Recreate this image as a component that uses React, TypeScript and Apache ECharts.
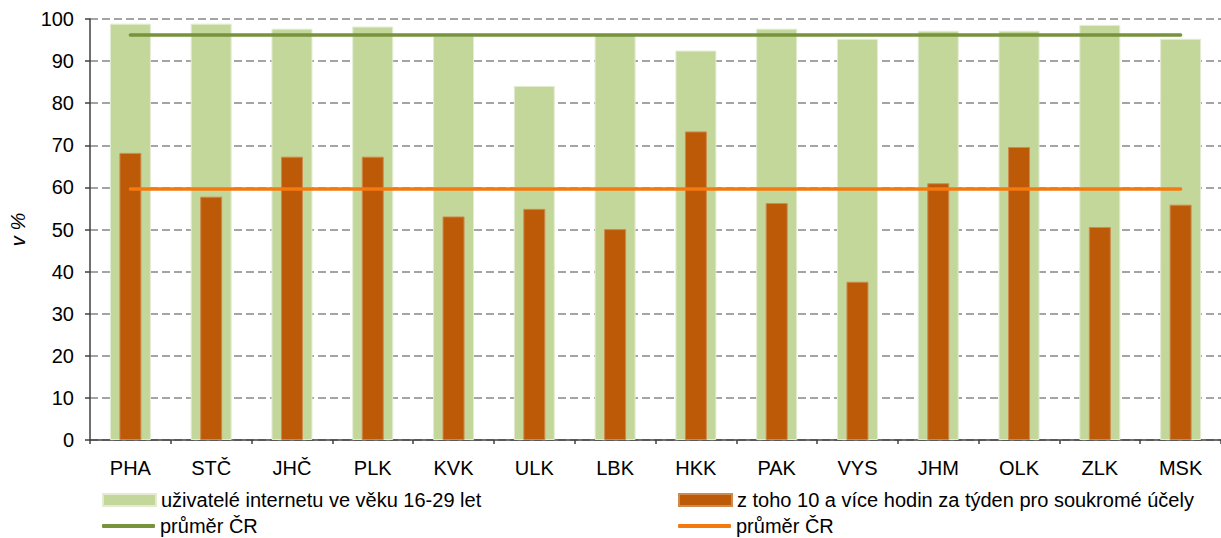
import React, { useEffect, useRef } from "react";
import * as echarts from "echarts";

const categories = ["PHA", "STČ", "JHČ", "PLK", "KVK", "ULK", "LBK", "HKK", "PAK", "VYS", "JHM", "OLK", "ZLK", "MSK"];
const internetUsers = [98.9, 98.9, 97.7, 98.2, 96.0, 84.1, 96.3, 92.5, 97.7, 95.3, 97.2, 97.2, 98.6, 95.3];
const heavyUsers = [68.2, 57.8, 67.3, 67.3, 53.1, 54.9, 50.1, 73.3, 56.3, 37.6, 61.0, 69.6, 50.6, 55.9];
const avgInternet = [96.2, 96.2, 96.2, 96.2, 96.2, 96.2, 96.2, 96.2, 96.2, 96.2, 96.2, 96.2, 96.2, 96.2];
const avgHeavy = [59.6, 59.6, 59.6, 59.6, 59.6, 59.6, 59.6, 59.6, 59.6, 59.6, 59.6, 59.6, 59.6, 59.6];

const nameInternet = "uživatelé internetu ve věku 16-29 let";
const nameHeavy = "z toho 10 a více hodin za týden pro soukromé účely";
const nameAvgInternet = "průměr ČR";
const nameAvgHeavy = "průměr ČR ";

const FONT = "'Liberation Sans', Arial, sans-serif";

export default function App() {
  const ref = useRef<HTMLDivElement>(null);
  useEffect(() => {
    if (!ref.current) return;
    const chart = echarts.init(ref.current, undefined, { renderer: "svg" });
    const legendText = { fontSize: 20, fontFamily: FONT, color: "#000", lineHeight: 20 };
    const mkLegend = (name: string, left: number, top: number, isLine: boolean) => ({
      data: [{ name, icon: isLine ? "roundRect" : "rect" }],
      left,
      top,
      itemWidth: 53,
      itemHeight: isLine ? 4 : 12,
      itemGap: 0,
      itemTextGap: isLine ? 8 : 5,
      textStyle: legendText,
      selectedMode: false,
    });
    const catAxisBase = {
      type: "category",
      data: categories,
      boundaryGap: true,
    };
    chart.setOption({
      animation: false,
      textStyle: { fontFamily: FONT },
      grid: { left: 89, top: 19, width: 1138, height: 421 },
      legend: [
        mkLegend(nameInternet, 97, 485, false),
        mkLegend(nameHeavy, 673, 485, false),
        mkLegend(nameAvgInternet, 97, 511, true),
        mkLegend(nameAvgHeavy, 673, 511, true),
      ],
      xAxis: [
        {
          ...catAxisBase,
          axisLine: { lineStyle: { color: "#404040", width: 1.5 } },
          axisTick: { show: true, length: 4, lineStyle: { color: "#404040", width: 1.5 } },
          axisLabel: { fontSize: 20, color: "#000", margin: 18, fontFamily: FONT },
        },
        {
          ...catAxisBase,
          show: false,
        },
      ],
      yAxis: {
        type: "value",
        min: 0,
        max: 100,
        interval: 10,
        name: "v %",
        nameLocation: "middle",
        nameGap: 62,
        nameTextStyle: { fontSize: 20, fontStyle: "italic", color: "#000", fontFamily: FONT },
        axisLine: { show: true, lineStyle: { color: "#404040", width: 1.5 } },
        axisTick: { show: true, length: 5, lineStyle: { color: "#404040", width: 1.5 } },
        axisLabel: { fontSize: 20, color: "#000", margin: 16, fontFamily: FONT },
        splitLine: { show: true, lineStyle: { color: "#868686", width: 1.5, type: [8, 4] } },
      },
      series: [
        {
          name: nameInternet,
          type: "bar",
          xAxisIndex: 0,
          data: internetUsers,
          barWidth: 41,
          itemStyle: { color: "#c4d79b", borderColor: "#e3ecd3", borderWidth: 1 },
          z: 2,
        },
        {
          name: nameHeavy,
          type: "bar",
          xAxisIndex: 1,
          data: heavyUsers,
          barWidth: 22,
          itemStyle: { color: "#bd5a08", borderColor: "#cf8a50", borderWidth: 1 },
          z: 3,
        },
        {
          name: nameAvgInternet,
          type: "line",
          xAxisIndex: 0,
          data: avgInternet,
          symbol: "none",
          lineStyle: { color: "#77933c", width: 3.5, cap: "round" },
          itemStyle: { color: "#77933c" },
          z: 4,
        },
        {
          name: nameAvgHeavy,
          type: "line",
          xAxisIndex: 0,
          data: avgHeavy,
          symbol: "none",
          lineStyle: { color: "#f47a10", width: 3.5, cap: "round" },
          itemStyle: { color: "#f47a10" },
          z: 4,
        },
      ],
    });
    return () => chart.dispose();
  }, []);
  return (
    <div
      ref={ref}
      style={{ position: "fixed", left: 0, top: 0, width: 1221, height: 538, background: "#fff" }}
    />
  );
}
